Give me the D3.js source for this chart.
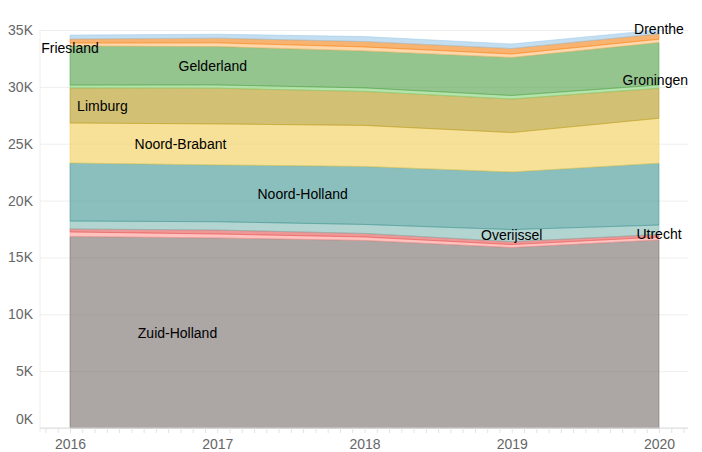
<!DOCTYPE html>
<html>
<head>
    <meta charset="utf-8">
    <title>Provinces stacked area</title>
    <script src="https://d3js.org/d3.v7.min.js"></script>
    <style>
        body { margin: 0; background: #fff; }
        svg { font-family: "Liberation Sans", Arial, sans-serif; }
    </style>
</head>
<body>
    <script type="text/javascript">
    // data
    const years = [2016, 2017, 2018, 2019, 2020];
    const provinces = ["Drenthe", "Flevoland", "Friesland", "Gelderland", "Groningen", "Limburg",
        "Noord-Brabant", "Noord-Holland", "Overijssel", "Utrecht", "Zeeland", "Zuid-Holland"];
    const drenthe      = [350, 350, 440, 400, 350];
    const flevoland    = [350, 410, 470, 480, 470];
    const friesland    = [260, 330, 350, 310, 300];
    const gelderland   = [3430, 3370, 3250, 3340, 3720];
    const groningen    = [260, 290, 310, 310, 290];
    const limburg      = [3080, 3140, 2990, 2950, 2640];
    const noordBrabant = [3520, 3610, 3610, 3470, 3960];
    const noordHolland = [5100, 4990, 5100, 5060, 5430];
    const overijssel   = [700, 730, 790, 1060, 840];
    const utrecht      = [260, 350, 310, 260, 220];
    const zeeland      = [400, 350, 310, 260, 260];
    const zuidHolland  = [16840, 16710, 16490, 15870, 16530];
    const yTicks = [0, 5000, 10000, 15000, 20000, 25000, 30000, 35000];

    const series = [drenthe, flevoland, friesland, gelderland, groningen, limburg,
        noordBrabant, noordHolland, overijssel, utrecht, zeeland, zuidHolland];
    const colors = ["#9ecae9", "#f58518", "#ffbf79", "#54a24b", "#88d27a", "#b79a20",
        "#f2cf5b", "#439894", "#83bcb6", "#e45756", "#ff9d98", "#79706e"];

    // where the area labels sit (year position along the band, small vertical nudge)
    const labelSpots = {
        "Drenthe": [2020, -3], "Friesland": [2016, 4], "Gelderland": [2016.97, 0],
        "Groningen": [2020, -6], "Limburg": [2016.22, 0], "Noord-Brabant": [2016.75, 0],
        "Noord-Holland": [2017.58, 0], "Overijssel": [2019, 0], "Utrecht": [2020, -2],
        "Zuid-Holland": [2016.73, 0]
    };

    const width = 702, height = 452;
    const plot = {left: 40, right: 688, top: 30, bottom: 428};

    const table = years.map((yr, i) => {
        const row = {year: yr};
        provinces.forEach((p, j) => row[p] = series[j][i]);
        return row;
    });

    const color = d3.scaleOrdinal().domain(provinces).range(colors);

    // bottom of the stack is the last province
    const stack = d3.stack().keys(provinces.slice().reverse());
    const layers = stack(table);

    const x = d3.scaleLinear().domain([2016, 2020]).range([70, 659]);
    const y = d3.scaleLinear().domain([0, 35000]).range([plot.bottom, plot.top]);

    const svg = d3.select("body").append("svg")
        .attr("width", width)
        .attr("height", height);

    // y grid + labels
    const yAxis = svg.append("g")
        .attr("transform", `translate(${plot.left},0)`)
        .call(d3.axisLeft(y)
            .tickValues(yTicks)
            .tickSize(-(plot.right - plot.left))
            .tickPadding(7)
            .tickFormat(d => d / 1000 + "K"));
    yAxis.select(".domain").remove();
    yAxis.selectAll(".tick line").attr("stroke", "#eeeeee");
    yAxis.selectAll(".tick text")
        .attr("fill", "#666")
        .style("font-size", "14px")
        .attr("dy", d => d === 0 ? "-0.3em" : "0.32em");

    svg.append("line")
        .attr("x1", plot.left).attr("x2", plot.left)
        .attr("y1", plot.top).attr("y2", plot.bottom + 4)
        .attr("stroke", "#eeeeee");

    // areas
    const area = d3.area()
        .x(d => x(d.data.year))
        .y0(d => y(d[0]))
        .y1(d => y(d[1]));

    svg.append("g")
        .selectAll("path")
        .data(layers)
        .join("path")
        .attr("d", area)
        .attr("fill", d => color(d.key))
        .attr("fill-opacity", 0.62)
        .attr("stroke", d => color(d.key))
        .attr("stroke-opacity", 0.55)
        .attr("stroke-width", 1);

    // x axis: monthly minor ticks, labels on years
    const months = d3.range(-2, 51).map(k => 2016 + k / 12);
    const xMinor = svg.append("g")
        .attr("transform", `translate(0,${plot.bottom})`)
        .call(d3.axisBottom(x).tickValues(months).tickSize(5).tickFormat(""));
    xMinor.select(".domain").remove();
    xMinor.selectAll(".tick line").attr("stroke", "#e2e2e2");

    svg.append("line")
        .attr("x1", plot.left).attr("x2", plot.right)
        .attr("y1", plot.bottom).attr("y2", plot.bottom)
        .attr("stroke", "#dddddd");

    const xAxis = svg.append("g")
        .attr("transform", `translate(0,${plot.bottom})`)
        .call(d3.axisBottom(x).tickValues(years).tickSize(0).tickPadding(11).tickFormat(d3.format("d")));
    xAxis.select(".domain").remove();
    xAxis.selectAll(".tick text")
        .attr("fill", "#666")
        .style("font-size", "14px");

    // area labels, in the middle of each band
    function bandAt(layer, yr) {
        const t = (yr - years[0]);
        const i = Math.max(0, Math.min(years.length - 2, Math.floor(t)));
        const f = t - i;
        const a = layer[i], b = layer[i + 1];
        const lo = a[0] + (b[0] - a[0]) * f;
        const hi = a[1] + (b[1] - a[1]) * f;
        return (y(lo) + y(hi)) / 2;
    }

    const labelData = layers.filter(l => labelSpots[l.key]).map(l => {
        const [yr, dy] = labelSpots[l.key];
        return {name: l.key, x: x(yr), y: bandAt(l, yr) + dy};
    });

    svg.append("g")
        .selectAll("text")
        .data(labelData)
        .join("text")
        .attr("x", d => d.x)
        .attr("y", d => d.y)
        .attr("dy", "0.35em")
        .attr("text-anchor", "middle")
        .attr("fill", "#000")
        .style("font-size", "14px")
        .text(d => d.name)
        .each(function(d) {
            const w = this.getComputedTextLength();
            let cx = d.x;
            if (cx + w / 2 > plot.right) cx = plot.right - w / 2;
            if (cx - w / 2 < plot.left) cx = plot.left + w / 2;
            d3.select(this).attr("x", cx);
        });
    </script>
</body>
</html>
